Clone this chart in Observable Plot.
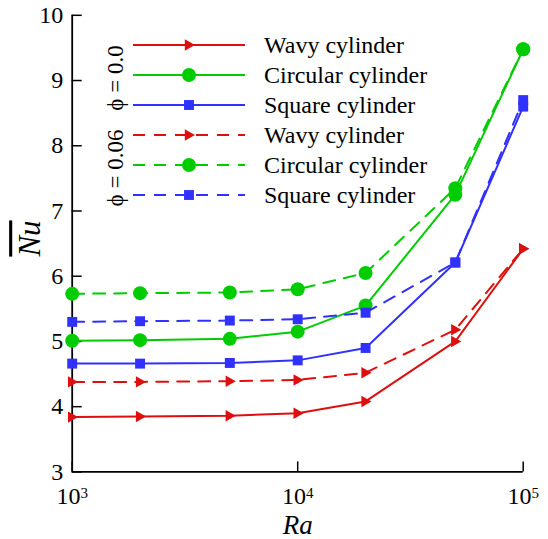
<!DOCTYPE html>
<html><head><meta charset="utf-8">
<script src="https://cdn.jsdelivr.net/npm/d3@7"></script>
<script src="https://cdn.jsdelivr.net/npm/@observablehq/plot@0.6"></script>
<style>
html,body{margin:0;padding:0;background:#fff;}
#chart{position:relative;width:548px;height:539px;overflow:hidden;}
#chart svg{position:absolute;left:0;top:0;}
#chart svg, #chart svg text, #chart svg tspan{font-family:"Liberation Serif","Times New Roman",serif !important;}
</style></head><body><div id="chart"></div>
<script>
// ---- data ----
const ra = [1e3, 2e3, 5e3, 1e4, 2e4, 5e4, 1e5];
const wavy00   = [3.84, 3.85, 3.86, 3.90, 4.08, 5.00, 6.42];
const circ00   = [5.01, 5.02, 5.04, 5.15, 5.55, 7.25, 9.48];
const square00 = [4.66, 4.66, 4.67, 4.71, 4.90, 6.21, 8.60];
const wavy06   = [4.38, 4.38, 4.39, 4.41, 4.52, 5.18, 6.42];
const circ06   = [5.73, 5.74, 5.75, 5.80, 6.05, 7.35, 9.48];
const square06 = [5.30, 5.31, 5.32, 5.34, 5.44, 6.21, 8.70];
const xTicks = [1e3, 1e4, 1e5];
const yTicks = [3, 4, 5, 6, 7, 8, 9, 10];
const seriesNames = ["Wavy cylinder", "Circular cylinder", "Square cylinder"];
const phiLabels = ["ϕ = 0.0", "ϕ = 0.06"];
const xLabel = "Ra";
const yLabel = "Nu";

// ---- styles ----
const FONT = "'Liberation Serif','Times New Roman',serif";
const RED = "#dd0f0f", GREEN = "#00cc00", BLUE = "#3030ff";
const DASH = "12,9";
const triRight = {
  draw(ctx, size) {
    const s = Math.sqrt(size / Math.PI);
    ctx.moveTo(s, 0);
    ctx.lineTo(-0.7 * s, -0.95 * s);
    ctx.lineTo(-0.7 * s, 0.95 * s);
    ctx.closePath();
  }
};
const shapes = [
  {symbol: triRight, r: 6, color: RED},
  {symbol: "circle", r: 7, color: GREEN},
  {symbol: "square", r: 5.6, color: BLUE}
];
const groups = [
  {phi: 0, dash: null, vals: [wavy00, circ00, square00]},
  {phi: 1, dash: DASH, vals: [wavy06, circ06, square06]}
];

const W = 548, H = 539;
const mL = 71.7, mR = 25.3, mT = 14.8, mB = 67.6;
const plotW = W - mL - mR, plotH = H - mT - mB;

const marks = [];
for (const g of groups) {
  g.vals.forEach((vals, k) => {
    const data = ra.map((x, i) => ({x, y: vals[i]}));
    const sh = shapes[k];
    marks.push(Plot.line(data, {x: "x", y: "y", stroke: sh.color, strokeWidth: 2, strokeDasharray: g.dash}));
    marks.push(Plot.dot(data, {x: "x", y: "y", fill: sh.color, symbol: sh.symbol, r: sh.r}));
  });
}

const chart = Plot.plot({
  width: W, height: H,
  marginLeft: mL, marginRight: mR, marginTop: mT, marginBottom: mB,
  style: {fontFamily: FONT, fontSize: "24px", color: "#000", background: "#fff", overflow: "visible"},
  x: {type: "log", domain: [1e3, 1e5], label: null},
  y: {domain: [3, 10], label: null},
  marks: [
    Plot.axisY({ticks: yTicks, tickSize: 0, tickPadding: 9, label: null, fontSize: 24, tickFormat: d => String(d)}),
    Plot.axisX({ticks: xTicks, tickSize: 0, tickPadding: 15, label: null, fontSize: 24, tickFormat: () => "10"}),
    Plot.tickX(xTicks, {x: d => d, insetTop: plotH - 10, stroke: "#000", strokeWidth: 1.5}),
    Plot.tickY(yTicks, {y: d => d, insetRight: plotW - 10, stroke: "#000", strokeWidth: 1.5}),
    Plot.ruleX([1e3], {stroke: "#000", strokeWidth: 1.8}),
    Plot.ruleY([3], {stroke: "#000", strokeWidth: 1.8}),
    ...marks,
    Plot.text([xLabel], {text: d => d, frameAnchor: "bottom", dy: 62, lineAnchor: "bottom", fontSize: 27, fontStyle: "italic", fill: "#000"}),
    Plot.text([yLabel], {text: d => d, frameAnchor: "left", dx: -42, dy: 13, rotate: -90, fontSize: 31, fontStyle: "italic", fill: "#000"})
  ]
});
document.getElementById("chart").appendChild(chart);

// superscripts on x tick labels
const svg = d3.select(chart);
svg.selectAll('g[aria-label="x-axis tick label"] text').each(function(_, i) {
  const e = Math.round(Math.log10(xTicks[i]));
  d3.select(this).append("tspan").attr("dy", "-0.38em").attr("font-size", 15).text(e);
});
// overline on y label
svg.selectAll('g[aria-label="text"] text').filter(function() { return this.textContent === yLabel; })
  .style("text-decoration", "overline");

// ---- legend overlay ----
const leg = d3.select("#chart").append("svg").attr("width", W).attr("height", H)
  .style("pointer-events", "none").attr("font-family", FONT);
const rowY0 = 45, rowStep = 30, lineX1 = 133, lineX2 = 245, markX = 189, textX = 264;
groups.forEach((g, gi) => {
  shapes.forEach((sh, k) => {
    const y = rowY0 + (gi * 3 + k) * rowStep;
    leg.append("line").attr("x1", lineX1).attr("x2", lineX2).attr("y1", y).attr("y2", y)
      .attr("stroke", sh.color).attr("stroke-width", 2).attr("stroke-dasharray", g.dash);
    const sym = typeof sh.symbol === "string"
      ? (sh.symbol === "circle" ? d3.symbolCircle : d3.symbolSquare) : sh.symbol;
    leg.append("path").attr("transform", `translate(${markX},${y})`)
      .attr("d", d3.symbol(sym, sh.r * sh.r * Math.PI)()).attr("fill", sh.color);
    leg.append("text").attr("x", textX).attr("y", y + 8).attr("font-size", 24).attr("fill", "#000")
      .text(seriesNames[k]);
  });
  const cy = rowY0 + (gi * 3 + 1) * rowStep + 3;
  leg.append("text").attr("transform", `translate(115,${cy}) rotate(-90)`)
    .attr("text-anchor", "middle").attr("dy", "0.35em").attr("font-size", 23).attr("fill", "#000")
    .text(phiLabels[gi]);
});
</script></body></html>
